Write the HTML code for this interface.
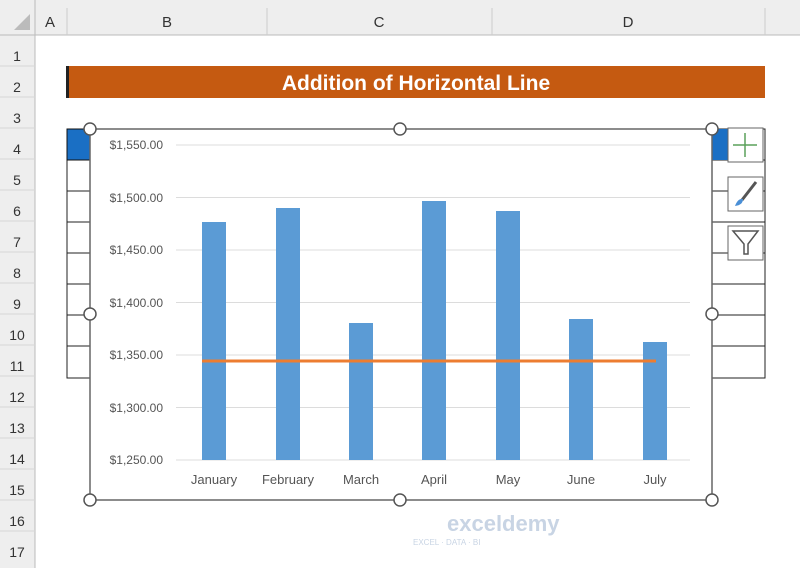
<!DOCTYPE html><html><head><style>body{margin:0;width:800px;height:568px;background:#fff;overflow:hidden;font-family:"Liberation Sans",sans-serif}</style></head><body>
<svg width="800" height="568" xmlns="http://www.w3.org/2000/svg" font-family="Liberation Sans, sans-serif">
<rect x="0" y="0" width="800" height="35" fill="#eeeeee"/>
<rect x="0" y="0" width="35" height="568" fill="#eeeeee"/>
<line x1="0" y1="35" x2="800" y2="35" stroke="#bbb"/>
<line x1="35" y1="0" x2="35" y2="568" stroke="#bbb"/>
<g stroke="#ccc"><line x1="67" y1="8" x2="67" y2="35"/><line x1="267" y1="8" x2="267" y2="35"/><line x1="492" y1="8" x2="492" y2="35"/><line x1="765" y1="8" x2="765" y2="35"/></g>
<g font-size="15" fill="#333" text-anchor="middle"><text x="50" y="27">A</text><text x="167" y="27">B</text><text x="379" y="27">C</text><text x="628" y="27">D</text></g>
<polygon points="14,30 30,14 30,30" fill="#bbb"/>
<g font-size="14" fill="#333" text-anchor="middle">
<text x="17" y="61">1</text><text x="17" y="92">2</text><text x="17" y="123">3</text><text x="17" y="154">4</text><text x="17" y="185">5</text><text x="17" y="216">6</text><text x="17" y="247">7</text><text x="17" y="278">8</text><text x="17" y="309">9</text><text x="17" y="340">10</text><text x="17" y="371">11</text><text x="17" y="402">12</text><text x="17" y="433">13</text><text x="17" y="464">14</text><text x="17" y="495">15</text><text x="17" y="526">16</text><text x="17" y="557">17</text></g>
<g stroke="#d6d6d6"><line x1="0" y1="66" x2="35" y2="66"/><line x1="0" y1="97" x2="35" y2="97"/><line x1="0" y1="128" x2="35" y2="128"/><line x1="0" y1="159" x2="35" y2="159"/><line x1="0" y1="190" x2="35" y2="190"/><line x1="0" y1="221" x2="35" y2="221"/><line x1="0" y1="252" x2="35" y2="252"/><line x1="0" y1="283" x2="35" y2="283"/><line x1="0" y1="314" x2="35" y2="314"/><line x1="0" y1="345" x2="35" y2="345"/><line x1="0" y1="376" x2="35" y2="376"/><line x1="0" y1="407" x2="35" y2="407"/><line x1="0" y1="438" x2="35" y2="438"/><line x1="0" y1="469" x2="35" y2="469"/><line x1="0" y1="500" x2="35" y2="500"/><line x1="0" y1="531" x2="35" y2="531"/></g>
<rect x="67" y="66" width="698" height="32" fill="#C55A11"/>
<rect x="66" y="66" width="3" height="32" fill="#222"/>
<text x="416" y="90" font-size="21" font-weight="bold" fill="#fff" text-anchor="middle">Addition of Horizontal Line</text>
<!-- side cells -->
<g stroke="#222" fill="none"><rect x="67" y="129" width="23" height="249"/><rect x="712" y="129" width="53" height="249"/>
<line x1="67" y1="160" x2="90" y2="160"/><line x1="67" y1="191" x2="90" y2="191"/><line x1="67" y1="222" x2="90" y2="222"/><line x1="67" y1="253" x2="90" y2="253"/><line x1="67" y1="284" x2="90" y2="284"/><line x1="67" y1="315" x2="90" y2="315"/><line x1="67" y1="346" x2="90" y2="346"/>
<line x1="712" y1="160" x2="765" y2="160"/><line x1="712" y1="191" x2="765" y2="191"/><line x1="712" y1="222" x2="765" y2="222"/><line x1="712" y1="253" x2="765" y2="253"/><line x1="712" y1="284" x2="765" y2="284"/><line x1="712" y1="315" x2="765" y2="315"/><line x1="712" y1="346" x2="765" y2="346"/></g>
<rect x="67" y="129" width="23" height="31" fill="#1a6fc4" stroke="#111"/>
<rect x="712" y="129" width="16" height="31" fill="#1a6fc4"/>
<!-- chart -->
<rect x="90" y="129" width="622" height="371" fill="#fff" stroke="#666" stroke-width="1.5"/>
<g stroke="#dcdcdc"><line x1="176" y1="145" x2="690" y2="145"/><line x1="176" y1="197.5" x2="690" y2="197.5"/><line x1="176" y1="250" x2="690" y2="250"/><line x1="176" y1="302.5" x2="690" y2="302.5"/><line x1="176" y1="355" x2="690" y2="355"/><line x1="176" y1="407.5" x2="690" y2="407.5"/><line x1="176" y1="460" x2="690" y2="460"/></g>
<g font-size="12" fill="#555" text-anchor="end"><text x="163" y="149">$1,550.00</text><text x="163" y="202">$1,500.00</text><text x="163" y="254">$1,450.00</text><text x="163" y="307">$1,400.00</text><text x="163" y="359">$1,350.00</text><text x="163" y="412">$1,300.00</text><text x="163" y="464">$1,250.00</text></g>
<g fill="#5b9bd5"><rect x="202" y="222" width="24" height="238"/><rect x="276" y="208" width="24" height="252"/><rect x="349" y="323" width="24" height="137"/><rect x="422" y="201" width="24" height="259"/><rect x="496" y="211" width="24" height="249"/><rect x="569" y="319" width="24" height="141"/><rect x="643" y="342" width="24" height="118"/></g>
<line x1="202" y1="361" x2="656" y2="361" stroke="#ed7d31" stroke-width="3"/>
<g font-size="13" fill="#555" text-anchor="middle"><text x="214" y="484">January</text><text x="288" y="484">February</text><text x="361" y="484">March</text><text x="434" y="484">April</text><text x="508" y="484">May</text><text x="581" y="484">June</text><text x="655" y="484">July</text></g>
<g fill="#fff" stroke="#555" stroke-width="1.5"><circle cx="90" cy="129" r="6"/><circle cx="400" cy="129" r="6"/><circle cx="712" cy="129" r="6"/><circle cx="90" cy="314" r="6"/><circle cx="712" cy="314" r="6"/><circle cx="90" cy="500" r="6"/><circle cx="400" cy="500" r="6"/><circle cx="712" cy="500" r="6"/></g>
<!-- buttons -->
<g fill="#fff" stroke="#666"><rect x="728" y="128" width="35" height="34"/><rect x="728" y="177" width="35" height="34"/><rect x="728" y="226" width="35" height="34"/></g>
<g stroke="#5aa05a" stroke-width="1.5"><line x1="745" y1="133" x2="745" y2="157"/><line x1="733" y1="145" x2="757" y2="145"/></g>
<path d="M756 182 L742 200" stroke="#555" stroke-width="3"/><path d="M735 206 Q738 198 743 199 Q743 205 735 206Z" fill="#4a8fd6"/>
<path d="M733 231 L758 231 L748 244 L748 254 L744 254 L744 244 Z" fill="none" stroke="#555" stroke-width="1.5"/>
<text x="447" y="531" font-size="22" fill="#c8d4e4" font-weight="bold">exceldemy</text>
<text x="413" y="545" font-size="8" fill="#c8d4e4">EXCEL · DATA · BI</text>
</svg></body></html>
